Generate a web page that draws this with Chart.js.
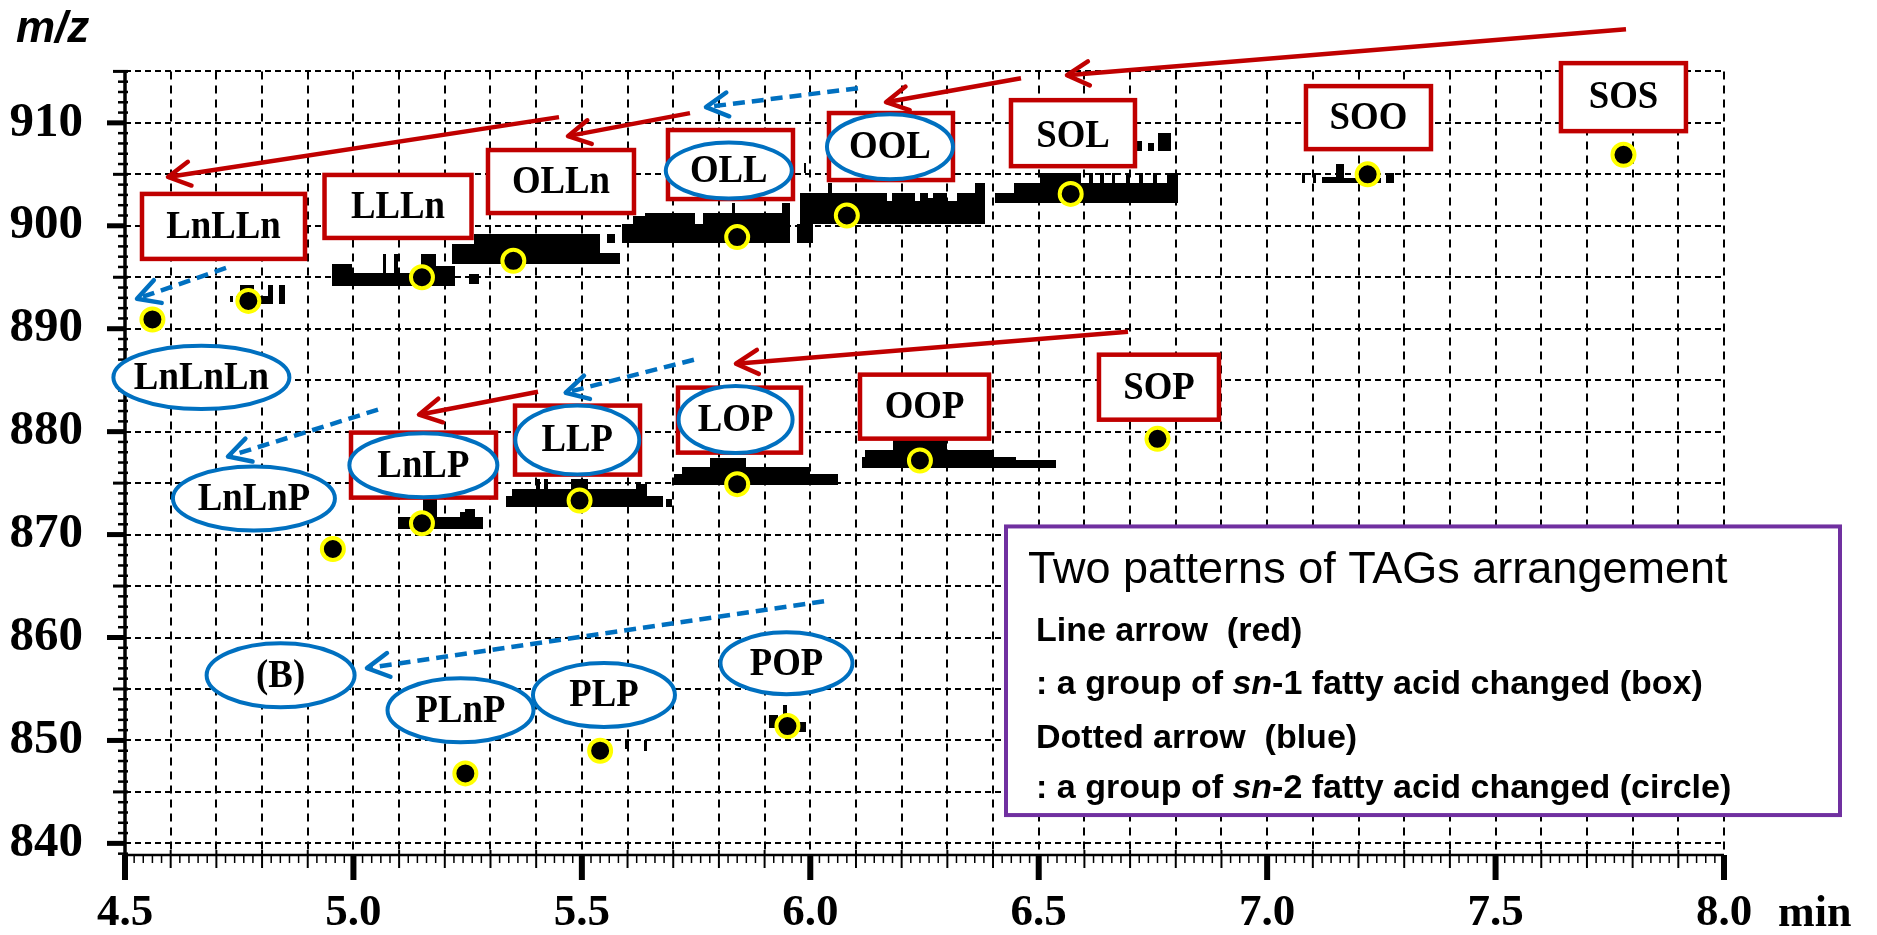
<!DOCTYPE html>
<html>
<head>
<meta charset="utf-8">
<script src="https://cdn.jsdelivr.net/npm/chart.js@4.4.1/dist/chart.umd.min.js"></script>
<style>
  html, body { margin: 0; padding: 0; background: #fff; }
  #wrap { position: relative; width: 1877px; height: 935px; }
</style>
</head>
<body>
<div id="wrap"><canvas id="map"></canvas></div>
<script>
// ---- TAG apex positions (retention time in min, m/z) ----
const tagNames     = ['LnLnLn','LnLLn','LLLn','OLLn','OLL','OOL','SOL','SOO','SOS',
                      'LnLnP','LnLP','LLP','LOP','OOP','SOP','PLnP','PLP','POP'];
const retentionMin = [4.56, 4.77, 5.15, 5.35, 5.84, 6.08, 6.57, 7.22, 7.78,
                      4.955, 5.15, 5.495, 5.84, 6.24, 6.76, 5.245, 5.54, 5.95];
const mzValues     = [890.9, 892.7, 895.0, 896.6, 898.9, 901.0, 903.1, 905.0, 906.9,
                      868.6, 871.1, 873.3, 874.9, 877.2, 879.3, 846.8, 849.0, 851.4];

// ---- detected ion-trace blocks: [t start, t end, m/z low, m/z high] ----
const ionTraceBlocks = [
  // m/z ~893
  [4.729, 4.736, 892.6, 893.2], [4.742, 4.813, 892.4, 893.2], [4.752, 4.783, 893.2, 894.2],
  [4.813, 4.823, 892.4, 894.2], [4.838, 4.850, 892.4, 894.2],
  // m/z ~895
  [4.954, 5.223, 894.16, 895.45], [4.954, 4.997, 895.45, 896.27],
  [5.064, 5.072, 895.45, 897.24], [5.089, 5.098, 895.45, 897.24],
  [5.148, 5.181, 895.45, 897.24], [5.181, 5.223, 895.45, 896.10],
  [5.252, 5.274, 894.36, 895.30],
  // m/z ~897
  [5.215, 5.540, 896.27, 898.21], [5.265, 5.540, 898.21, 899.18],
  [5.540, 5.584, 896.27, 897.39], [5.554, 5.573, 898.36, 899.18],
  // m/z ~899
  [5.587, 5.956, 898.36, 900.15], [5.613, 5.638, 900.15, 900.95],
  [5.638, 5.748, 900.15, 901.27], [5.766, 5.937, 900.15, 901.27],
  [5.828, 5.835, 901.27, 902.24], [5.937, 5.956, 900.15, 902.24],
  [5.970, 6.007, 898.36, 900.15], [5.986, 5.990, 905.15, 906.10],
  // m/z ~901
  [5.978, 6.382, 900.15, 902.41],
  [5.978, 6.167, 902.41, 903.21], [6.178, 6.229, 902.41, 903.21], [6.240, 6.258, 902.41, 903.21],
  [6.269, 6.299, 902.41, 903.21], [6.321, 6.361, 902.41, 903.21], [6.258, 6.269, 902.41, 902.70],
  [6.361, 6.382, 902.41, 904.18], [6.039, 6.047, 903.21, 904.18],
  // m/z ~903
  [6.404, 6.805, 902.24, 903.21], [6.445, 6.805, 903.21, 904.18], [6.503, 6.593, 904.18, 905.15],
  [6.610, 6.618, 904.18, 905.15], [6.635, 6.643, 904.18, 905.15], [6.660, 6.668, 904.18, 905.15],
  [6.690, 6.700, 904.18, 905.15], [6.720, 6.728, 904.18, 905.15], [6.750, 6.760, 904.18, 905.15],
  [6.780, 6.805, 904.18, 905.15],
  [6.715, 6.727, 907.26, 908.23], [6.740, 6.752, 907.26, 908.06], [6.762, 6.789, 907.26, 909.03],
  // m/z ~905
  [7.076, 7.082, 904.18, 905.15], [7.101, 7.106, 904.18, 905.15], [7.120, 7.150, 904.18, 904.70],
  [7.150, 7.168, 904.18, 905.97], [7.168, 7.250, 904.18, 904.60], [7.260, 7.278, 904.18, 905.15],
  // m/z ~871
  [5.097, 5.283, 870.56, 871.69], [5.153, 5.183, 871.69, 873.63],
  [5.233, 5.245, 871.69, 872.17], [5.245, 5.266, 871.69, 872.50],
  // m/z ~873
  [5.333, 5.677, 872.66, 873.79], [5.348, 5.643, 873.79, 874.40],
  [5.400, 5.409, 874.40, 875.41], [5.417, 5.425, 874.40, 875.41], [5.476, 5.513, 874.40, 875.41],
  [5.618, 5.643, 874.40, 874.90], [5.685, 5.698, 872.66, 873.47],
  // m/z ~875
  [5.702, 6.060, 874.78, 875.90], [5.720, 6.000, 875.90, 876.60], [5.780, 5.860, 876.60, 877.45],
  // m/z ~877
  [6.113, 6.450, 876.50, 877.50], [6.120, 6.400, 877.50, 878.20], [6.180, 6.300, 878.20, 879.40],
  [6.450, 6.538, 876.50, 877.20],
  // m/z ~849 / ~851
  [5.594, 5.603, 849.20, 850.00], [5.636, 5.643, 849.00, 850.00],
  [5.910, 5.930, 851.20, 852.50], [5.930, 5.990, 850.80, 851.80], [5.940, 5.950, 851.80, 853.40]
];

// ---- axis ticks ----
const timeTickLabels = ['4.5', '5.0', '5.5', '6.0', '6.5', '7.0', '7.5', '8.0'];
const mzTickLabels   = ['840', '850', '860', '870', '880', '890', '900', '910'];

// ---- annotation layout (centres in min / m/z, sizes in px) ----
const redBoxes = [
  {x: 4.7156, y: 899.94, w: 163, h: 65}, {x: 5.0976, y: 901.88, w: 147, h: 63},
  {x: 5.4543, y: 904.30, w: 146, h: 63}, {x: 5.8253, y: 905.95, w: 125, h: 69},
  {x: 6.1766, y: 907.70, w: 124, h: 67}, {x: 6.5750, y: 909.00, w: 124, h: 66},
  {x: 7.2218, y: 910.51, w: 125, h: 63}, {x: 7.7799, y: 912.50, w: 125, h: 68},
  {x: 5.1534, y: 876.75, w: 145, h: 65}, {x: 5.4905, y: 879.18, w: 125, h: 69},
  {x: 5.8450, y: 881.12, w: 123, h: 65}, {x: 6.2500, y: 882.43, w: 129, h: 64},
  {x: 6.7632, y: 884.32, w: 120, h: 65}
];
const blueOvals = [
  {x: 4.6672, y: 885.27, rx: 88, ry: 31.7}, {x: 4.7822, y: 873.50, rx: 81, ry: 32},
  {x: 5.1531, y: 876.73, rx: 74, ry: 32},   {x: 5.4900, y: 879.18, rx: 62, ry: 34.5},
  {x: 5.8365, y: 881.17, rx: 57, ry: 33.5}, {x: 5.8216, y: 905.37, rx: 63, ry: 28},
  {x: 6.1744, y: 907.67, rx: 63, ry: 32.5}, {x: 4.8406, y: 856.33, rx: 74, ry: 32},
  {x: 5.2344, y: 852.94, rx: 73, ry: 32},   {x: 5.5484, y: 854.42, rx: 71, ry: 32},
  {x: 5.9479, y: 857.50, rx: 66, ry: 31}
];
const shapeLabels = [
  {t: 'LnLLn', x: 4.7156, y: 899.94}, {t: 'LLLn', x: 5.0976, y: 901.88},
  {t: 'OLLn', x: 5.4543, y: 904.30},  {t: 'OLL', x: 5.8216, y: 905.37},
  {t: 'OOL', x: 6.1744, y: 907.67},   {t: 'SOL', x: 6.5750, y: 908.80},
  {t: 'SOO', x: 7.2218, y: 910.51},   {t: 'SOS', x: 7.7799, y: 912.50},
  {t: 'LnLnLn', x: 4.6672, y: 885.27},{t: 'LnLnP', x: 4.7822, y: 873.50},
  {t: 'LnLP', x: 5.1531, y: 876.73},  {t: 'LLP', x: 5.4900, y: 879.18},
  {t: 'LOP', x: 5.8365, y: 881.17},   {t: 'OOP', x: 6.2500, y: 882.43},
  {t: 'SOP', x: 6.7632, y: 884.32},   {t: '(B)', x: 4.8406, y: 856.33},
  {t: 'PLnP', x: 5.2344, y: 852.94},  {t: 'PLP', x: 5.5484, y: 854.42},
  {t: 'POP', x: 5.9479, y: 857.50}
];
// sn-1 change (solid red) and sn-2 change (dashed blue): [from t, from m/z, to t, to m/z]
const redArrows = [
  [7.7855, 919.09, 6.5619, 914.63], [6.4612, 914.34, 6.1657, 912.01],
  [5.7367, 910.95, 5.4696, 908.71], [5.4500, 910.56, 4.5941, 904.74],
  [6.6954, 889.70, 5.8374, 886.60], [5.4040, 883.88, 5.1435, 881.65]
];
const blueArrows = [
  [6.1044, 913.37, 5.7717, 911.53], [4.7211, 895.91, 4.5263, 892.91],
  [5.7453, 886.99, 5.4647, 883.78], [5.0538, 882.14, 4.7255, 877.58],
  [6.0301, 863.53, 5.0297, 857.03]
];
const legendCorner = {x0: 6.4284, y0: 870.79, x1: 8.2539, y1: 842.75};

const RED = '#c00000', BLUE = '#0070c0', PURPLE = '#7030a0';
const SERIF = '"Liberation Serif", "Times New Roman", serif';
const SANS = '"Liberation Sans", Arial, sans-serif';

function isMultiple(v, step) {
  const q = v / step;
  return Math.abs(q - Math.round(q)) < 1e-6;
}

function drawArrow(ctx, x1, y1, x2, y2, color, dashed) {
  ctx.save();
  ctx.strokeStyle = color;
  ctx.lineWidth = 4.5;
  ctx.lineCap = 'butt';
  ctx.setLineDash(dashed ? [12, 7] : []);
  ctx.beginPath(); ctx.moveTo(x1, y1); ctx.lineTo(x2, y2); ctx.stroke();
  ctx.setLineDash([]);
  const a = Math.atan2(y2 - y1, x2 - x1), L = 25, spread = 0.5;
  ctx.lineCap = 'round'; ctx.lineJoin = 'round';
  ctx.beginPath();
  ctx.moveTo(x2 - L * Math.cos(a - spread), y2 - L * Math.sin(a - spread));
  ctx.lineTo(x2, y2);
  ctx.lineTo(x2 - L * Math.cos(a + spread), y2 - L * Math.sin(a + spread));
  ctx.stroke();
  ctx.restore();
}

function drawRich(ctx, parts, x, y) {
  let cx = x;
  for (const p of parts) {
    ctx.font = p.f;
    ctx.fillText(p.t, cx, y);
    cx += ctx.measureText(p.t).width;
  }
}

// condensed serif caption centred on (x, y)
function drawNarrow(ctx, text, x, y) {
  ctx.save();
  ctx.translate(x, y);
  ctx.scale(0.92, 1);
  ctx.fillText(text, 0, 0);
  ctx.restore();
}

// ion-trace blocks and axis frame, under the apex markers
const tracePlugin = {
  id: 'traces',
  beforeDatasetsDraw(chart) {
    const {ctx, scales: {x, y}, chartArea: a} = chart;
    ctx.save();
    ctx.fillStyle = '#000';
    for (const [t0, t1, m0, m1] of ionTraceBlocks) {
      const px0 = Math.round(x.getPixelForValue(t0)), px1 = Math.round(x.getPixelForValue(t1));
      const py0 = Math.round(y.getPixelForValue(m1)), py1 = Math.round(y.getPixelForValue(m0));
      ctx.fillRect(px0, py0, Math.max(1, px1 - px0), Math.max(1, py1 - py0));
    }
    // x axis with tick marks
    ctx.strokeStyle = '#000';
    ctx.lineWidth = 2.5;
    ctx.beginPath(); ctx.moveTo(a.left, a.bottom); ctx.lineTo(a.right, a.bottom); ctx.stroke();
    for (let i = 0; i <= 175; i++) {
      const v = x.min + i * 0.02;
      const px = x.getPixelForValue(v);
      ctx.beginPath();
      if (i % 25 === 0) { ctx.lineWidth = 6; ctx.moveTo(px, a.bottom); ctx.lineTo(px, a.bottom + 25); }
      else if (i % 5 === 0) { ctx.lineWidth = 2; ctx.moveTo(px, a.bottom - 5); ctx.lineTo(px, a.bottom + 13); }
      else { ctx.lineWidth = 1.5; ctx.moveTo(px, a.bottom); ctx.lineTo(px, a.bottom + 8); }
      ctx.stroke();
    }
    // y axis with tick marks
    ctx.lineWidth = 3.5;
    ctx.beginPath(); ctx.moveTo(a.left, a.top); ctx.lineTo(a.left, a.bottom); ctx.stroke();
    for (let m = Math.ceil(y.min); m <= y.max; m++) {
      const py = y.getPixelForValue(m);
      ctx.beginPath();
      if (m % 10 === 0) { ctx.lineWidth = 5; ctx.moveTo(a.left - 18, py); ctx.lineTo(a.left, py); }
      else if (m % 5 === 0) { ctx.lineWidth = 3; ctx.moveTo(a.left - 12, py); ctx.lineTo(a.left + 3, py); }
      else { ctx.lineWidth = 2.5; ctx.moveTo(a.left - 7, py); ctx.lineTo(a.left + 3, py); }
      ctx.stroke();
    }
    ctx.restore();
  }
};

// boxes, ovals, arrows, labels and the explanation panel
const notePlugin = {
  id: 'notes',
  afterDatasetsDraw(chart) {
    const {ctx, scales: {x, y}} = chart;
    const X = v => x.getPixelForValue(v), Y = v => y.getPixelForValue(v);
    ctx.save();
    for (const b of redBoxes) {
      const cx = X(b.x), cy = Y(b.y);
      ctx.fillStyle = '#fff';
      ctx.fillRect(cx - b.w / 2, cy - b.h / 2, b.w, b.h);
      ctx.strokeStyle = RED; ctx.lineWidth = 4.5;
      ctx.strokeRect(cx - b.w / 2, cy - b.h / 2, b.w, b.h);
    }
    for (const e of blueOvals) {
      ctx.beginPath();
      ctx.ellipse(X(e.x), Y(e.y), e.rx, e.ry, 0, 0, Math.PI * 2);
      ctx.fillStyle = '#fff'; ctx.fill();
      ctx.strokeStyle = BLUE; ctx.lineWidth = 4; ctx.stroke();
    }
    ctx.fillStyle = '#000';
    ctx.font = 'bold 40px ' + SERIF;
    ctx.textAlign = 'center'; ctx.textBaseline = 'middle';
    for (const l of shapeLabels) drawNarrow(ctx, l.t, X(l.x), Y(l.y) + 1);
    for (const r of redArrows) drawArrow(ctx, X(r[0]), Y(r[1]), X(r[2]), Y(r[3]), RED, false);
    for (const r of blueArrows) drawArrow(ctx, X(r[0]), Y(r[1]), X(r[2]), Y(r[3]), BLUE, true);

    // explanation panel
    const lx = X(legendCorner.x0), ly = Y(legendCorner.y0);
    const lw = X(legendCorner.x1) - lx, lh = Y(legendCorner.y1) - ly;
    ctx.fillStyle = '#fff'; ctx.fillRect(lx, ly, lw, lh);
    ctx.strokeStyle = PURPLE; ctx.lineWidth = 4; ctx.strokeRect(lx, ly, lw, lh);
    ctx.fillStyle = '#000'; ctx.textAlign = 'left'; ctx.textBaseline = 'alphabetic';
    ctx.font = '45px ' + SANS;
    ctx.fillText('Two patterns of TAGs arrangement', lx + 22, ly + 57);
    const B = 'bold 34px ' + SANS, BI = 'italic bold 34px ' + SANS;
    drawRich(ctx, [{t: 'Line arrow  (red)', f: B}], lx + 30, ly + 115);
    drawRich(ctx, [{t: ': a group of ', f: B}, {t: 'sn', f: BI}, {t: '-1 fatty acid changed (box)', f: B}], lx + 30, ly + 168);
    drawRich(ctx, [{t: 'Dotted arrow  (blue)', f: B}], lx + 30, ly + 222);
    drawRich(ctx, [{t: ': a group of ', f: B}, {t: 'sn', f: BI}, {t: '-2 fatty acid changed (circle)', f: B}], lx + 30, ly + 272);

    // axis captions
    ctx.font = 'italic bold 44px ' + SANS;
    ctx.fillText('m/z', 16, 42);
    ctx.font = 'bold 44px ' + SERIF;
    ctx.fillText('min', 1778, 926);
    ctx.restore();
  }
};

const points = tagNames.map((n, i) => ({x: retentionMin[i], y: mzValues[i]}));

new Chart(document.getElementById('map'), {
  type: 'scatter',
  data: {
    datasets: [{
      label: 'TAG apex',
      data: points,
      pointRadius: 11,
      pointBorderWidth: 4,
      pointBackgroundColor: '#000',
      pointBorderColor: '#ffff00'
    }]
  },
  options: {
    responsive: true,
    maintainAspectRatio: false,
    animation: false,
    events: [],
    layout: {padding: {top: 70, right: 153, left: 0, bottom: 0}},
    plugins: {legend: {display: false}, tooltip: {enabled: false}},
    scales: {
      x: {
        type: 'linear', min: 4.5, max: 8.0,
        afterFit(scale) { scale.height = 80; },
        ticks: {
          stepSize: 0.1, autoSkip: false, maxRotation: 0, minRotation: 0, padding: 31,
          color: '#000', font: {family: SERIF, weight: 'bold', size: 45},
          callback: v => isMultiple(v, 0.5) ? timeTickLabels[Math.round((v - 4.5) * 2)] : ''
        },
        grid: {color: '#000', lineWidth: 2, drawTicks: false},
        border: {display: false, dash: [8, 6]}
      },
      y: {
        type: 'linear', min: 838.87, max: 915,
        afterFit(scale) { scale.width = 125; },
        ticks: {
          stepSize: 5, includeBounds: false, autoSkip: false, padding: 42,
          color: '#000', font: {family: SERIF, weight: 'bold', size: 49},
          callback: v => isMultiple(v, 10) ? mzTickLabels[Math.round((v - 840) / 10)] : ''
        },
        grid: {color: '#000', lineWidth: 2, drawTicks: false},
        border: {display: false, dash: [6, 4]}
      }
    }
  },
  plugins: [tracePlugin, notePlugin]
});
</script>
</body>
</html>
